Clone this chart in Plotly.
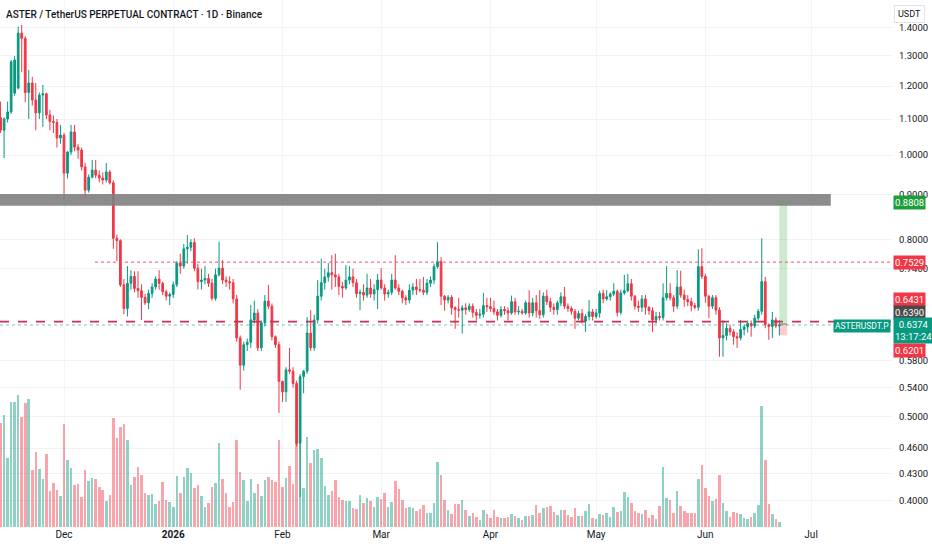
import plotly.graph_objects as go
import pandas as pd
import math

# ---------------- data ----------------
start_date = "2025-11-13"

opens = [1.104, 1.068, 1.100, 1.121, 1.178, 1.194, 1.381, 1.362, 1.180, 1.210,
         1.157, 1.118, 1.172, 1.176, 1.112, 1.093, 1.090, 1.046, 1.054, 0.953,
         1.008, 1.063, 1.021, 1.013, 0.969, 0.911, 0.943, 0.961, 0.948, 0.941,
         0.936, 0.956, 0.929, 0.802, 0.797, 0.709, 0.666, 0.712, 0.725, 0.702,
         0.698, 0.686, 0.676, 0.693, 0.705, 0.720, 0.712, 0.696, 0.688, 0.691,
         0.709, 0.751, 0.745, 0.780, 0.783, 0.793, 0.741, 0.715, 0.718, 0.721,
         0.712, 0.684, 0.728, 0.741, 0.718, 0.715, 0.713, 0.683, 0.616, 0.573,
         0.605, 0.609, 0.646, 0.658, 0.600, 0.641, 0.679, 0.670, 0.618, 0.605,
         0.549, 0.534, 0.566, 0.564, 0.546, 0.466, 0.556, 0.564, 0.624, 0.600,
         0.646, 0.688, 0.713, 0.724, 0.732, 0.728, 0.724, 0.706, 0.703, 0.718,
         0.724, 0.713, 0.693, 0.695, 0.690, 0.703, 0.692, 0.700, 0.718, 0.703,
         0.692, 0.695, 0.718, 0.703, 0.697, 0.685, 0.681, 0.699, 0.705, 0.700,
         0.699, 0.695, 0.712, 0.718, 0.744, 0.754, 0.688, 0.681, 0.686, 0.667,
         0.664, 0.663, 0.667, 0.664, 0.670, 0.659, 0.654, 0.656, 0.671, 0.669,
         0.666, 0.660, 0.654, 0.664, 0.662, 0.658, 0.678, 0.660, 0.661, 0.658,
         0.676, 0.658, 0.676, 0.662, 0.655, 0.688, 0.678, 0.668, 0.664, 0.676,
         0.687, 0.670, 0.666, 0.661, 0.649, 0.657, 0.644, 0.652, 0.660, 0.652,
         0.658, 0.693, 0.683, 0.687, 0.692, 0.697, 0.659, 0.694, 0.698, 0.711,
         0.688, 0.670, 0.668, 0.683, 0.668, 0.662, 0.646, 0.652, 0.650, 0.685,
         0.693, 0.685, 0.670, 0.705, 0.690, 0.682, 0.678, 0.671, 0.668, 0.744,
         0.725, 0.688, 0.670, 0.685, 0.663, 0.616, 0.620, 0.632, 0.626, 0.618,
         0.616, 0.630, 0.634, 0.640, 0.636, 0.649, 0.661, 0.715, 0.638, 0.635,
         0.646, 0.636]

highs = [1.152, 1.105, 1.152, 1.286, 1.300, 1.405, 1.411, 1.370, 1.253, 1.230,
         1.210, 1.180, 1.204, 1.180, 1.127, 1.110, 1.100, 1.083, 1.060, 1.010,
         1.083, 1.083, 1.030, 1.020, 0.980, 0.950, 0.987, 0.987, 0.960, 0.955,
         0.979, 0.961, 0.935, 0.810, 0.800, 0.720, 0.745, 0.737, 0.735, 0.735,
         0.710, 0.692, 0.700, 0.712, 0.725, 0.737, 0.715, 0.700, 0.695, 0.715,
         0.755, 0.770, 0.790, 0.809, 0.800, 0.802, 0.750, 0.740, 0.745, 0.730,
         0.720, 0.740, 0.795, 0.757, 0.725, 0.725, 0.720, 0.690, 0.620, 0.610,
         0.615, 0.672, 0.680, 0.665, 0.645, 0.690, 0.709, 0.675, 0.620, 0.610,
         0.550, 0.570, 0.600, 0.570, 0.550, 0.560, 0.566, 0.651, 0.663, 0.655,
         0.718, 0.760, 0.740, 0.751, 0.767, 0.770, 0.730, 0.715, 0.747, 0.745,
         0.740, 0.720, 0.700, 0.710, 0.730, 0.720, 0.710, 0.730, 0.741, 0.710,
         0.700, 0.730, 0.767, 0.710, 0.700, 0.690, 0.710, 0.712, 0.720, 0.720,
         0.724, 0.720, 0.725, 0.750, 0.794, 0.763, 0.690, 0.690, 0.690, 0.670,
         0.685, 0.672, 0.675, 0.675, 0.675, 0.665, 0.665, 0.694, 0.685, 0.685,
         0.680, 0.665, 0.670, 0.670, 0.668, 0.689, 0.685, 0.670, 0.665, 0.680,
         0.699, 0.685, 0.690, 0.699, 0.695, 0.700, 0.685, 0.675, 0.680, 0.695,
         0.705, 0.675, 0.670, 0.665, 0.662, 0.665, 0.656, 0.681, 0.665, 0.665,
         0.698, 0.700, 0.699, 0.695, 0.712, 0.700, 0.700, 0.728, 0.730, 0.720,
         0.690, 0.680, 0.690, 0.690, 0.670, 0.668, 0.660, 0.660, 0.712, 0.745,
         0.712, 0.690, 0.737, 0.736, 0.700, 0.690, 0.685, 0.676, 0.779, 0.781,
         0.730, 0.690, 0.690, 0.690, 0.668, 0.646, 0.640, 0.638, 0.630, 0.625,
         0.646, 0.638, 0.645, 0.645, 0.655, 0.665, 0.802, 0.724, 0.640, 0.660,
         0.650, 0.646]

lows = [1.060, 0.992, 1.090, 1.115, 1.170, 1.190, 1.245, 1.150, 1.100, 1.140,
        1.068, 1.100, 1.077, 1.100, 1.068, 1.060, 1.020, 1.030, 0.888, 0.940,
        1.000, 1.010, 0.990, 0.960, 0.895, 0.905, 0.940, 0.940, 0.930, 0.925,
        0.930, 0.925, 0.780, 0.755, 0.705, 0.656, 0.652, 0.700, 0.695, 0.685,
        0.646, 0.672, 0.665, 0.685, 0.700, 0.700, 0.690, 0.680, 0.672, 0.685,
        0.705, 0.730, 0.740, 0.750, 0.775, 0.735, 0.700, 0.700, 0.710, 0.705,
        0.680, 0.680, 0.725, 0.710, 0.705, 0.700, 0.675, 0.610, 0.537, 0.565,
        0.595, 0.600, 0.640, 0.595, 0.595, 0.635, 0.665, 0.612, 0.600, 0.505,
        0.520, 0.520, 0.560, 0.540, 0.462, 0.404, 0.532, 0.560, 0.595, 0.595,
        0.640, 0.680, 0.700, 0.715, 0.700, 0.705, 0.690, 0.685, 0.700, 0.710,
        0.705, 0.685, 0.663, 0.680, 0.685, 0.685, 0.680, 0.665, 0.700, 0.680,
        0.685, 0.690, 0.700, 0.690, 0.675, 0.672, 0.675, 0.690, 0.690, 0.695,
        0.690, 0.690, 0.705, 0.710, 0.740, 0.672, 0.662, 0.675, 0.655, 0.631,
        0.650, 0.623, 0.655, 0.660, 0.650, 0.645, 0.648, 0.650, 0.660, 0.660,
        0.655, 0.645, 0.650, 0.655, 0.645, 0.655, 0.655, 0.655, 0.655, 0.655,
        0.650, 0.652, 0.650, 0.648, 0.650, 0.672, 0.660, 0.655, 0.655, 0.670,
        0.665, 0.660, 0.655, 0.631, 0.645, 0.640, 0.626, 0.645, 0.645, 0.648,
        0.650, 0.675, 0.680, 0.680, 0.688, 0.652, 0.655, 0.690, 0.695, 0.680,
        0.664, 0.660, 0.660, 0.655, 0.655, 0.626, 0.640, 0.645, 0.645, 0.680,
        0.680, 0.660, 0.665, 0.685, 0.669, 0.670, 0.661, 0.664, 0.662, 0.720,
        0.676, 0.649, 0.665, 0.655, 0.586, 0.586, 0.612, 0.620, 0.605, 0.600,
        0.612, 0.620, 0.625, 0.618, 0.632, 0.645, 0.655, 0.632, 0.613, 0.616,
        0.632, 0.620]

closes = [1.068, 1.100, 1.121, 1.280, 1.286, 1.381, 1.362, 1.180, 1.210, 1.157,
          1.118, 1.172, 1.176, 1.112, 1.093, 1.090, 1.046, 1.054, 0.953, 1.008,
          1.063, 1.021, 1.013, 0.969, 0.911, 0.943, 0.961, 0.948, 0.941, 0.936,
          0.956, 0.929, 0.802, 0.797, 0.709, 0.666, 0.712, 0.725, 0.702, 0.698,
          0.686, 0.676, 0.693, 0.705, 0.720, 0.712, 0.696, 0.688, 0.691, 0.709,
          0.751, 0.745, 0.780, 0.783, 0.793, 0.741, 0.715, 0.718, 0.721, 0.712,
          0.684, 0.728, 0.741, 0.718, 0.715, 0.713, 0.683, 0.616, 0.573, 0.605,
          0.609, 0.646, 0.658, 0.600, 0.641, 0.679, 0.670, 0.618, 0.605, 0.549,
          0.534, 0.566, 0.564, 0.546, 0.466, 0.556, 0.564, 0.624, 0.600, 0.646,
          0.688, 0.713, 0.724, 0.732, 0.728, 0.724, 0.706, 0.703, 0.718, 0.724,
          0.713, 0.693, 0.695, 0.690, 0.703, 0.692, 0.700, 0.718, 0.703, 0.692,
          0.695, 0.718, 0.703, 0.697, 0.685, 0.681, 0.699, 0.705, 0.700, 0.699,
          0.695, 0.712, 0.718, 0.744, 0.754, 0.688, 0.681, 0.686, 0.667, 0.664,
          0.663, 0.667, 0.664, 0.670, 0.659, 0.654, 0.656, 0.671, 0.669, 0.666,
          0.660, 0.654, 0.664, 0.662, 0.658, 0.678, 0.660, 0.661, 0.658, 0.676,
          0.658, 0.676, 0.662, 0.655, 0.688, 0.678, 0.668, 0.664, 0.676, 0.687,
          0.670, 0.666, 0.661, 0.649, 0.657, 0.644, 0.652, 0.660, 0.652, 0.658,
          0.693, 0.683, 0.687, 0.692, 0.697, 0.659, 0.694, 0.698, 0.711, 0.688,
          0.670, 0.668, 0.683, 0.668, 0.662, 0.646, 0.652, 0.650, 0.685, 0.693,
          0.685, 0.670, 0.705, 0.690, 0.682, 0.678, 0.671, 0.668, 0.744, 0.725,
          0.688, 0.670, 0.685, 0.663, 0.616, 0.620, 0.632, 0.626, 0.618, 0.616,
          0.630, 0.634, 0.640, 0.636, 0.649, 0.661, 0.715, 0.638, 0.635, 0.646,
          0.636, 0.6374]

volumes_m = [104, 112, 69, 125, 125, 132, 110, 124, 128, 57,
             75, 58, 48, 73, 36, 44, 37, 31, 103, 67,
             59, 42, 43, 30, 57, 46, 49, 48, 40, 37,
             26, 32, 109, 89, 100, 103, 87, 42, 50, 60,
             52, 34, 32, 33, 23, 26, 45, 27, 25, 20,
             51, 34, 50, 59, 54, 39, 42, 31, 20, 24,
             40, 44, 84, 48, 34, 20, 25, 87, 55, 47,
             26, 48, 34, 43, 31, 47, 50, 47, 45, 87,
             40, 49, 61, 43, 84, 90, 39, 90, 64, 77,
             78, 69, 41, 32, 36, 47, 30, 27, 26, 26,
             19, 18, 32, 24, 29, 26, 20, 30, 28, 34,
             20, 25, 46, 38, 27, 19, 20, 19, 16, 18,
             22, 14, 14, 24, 65, 52, 27, 17, 13, 23,
             23, 27, 17, 11, 14, 10, 7, 17, 13, 9,
             17, 10, 9, 9, 10, 13, 11, 9, 7, 11,
             11, 12, 22, 14, 19, 20, 21, 15, 12, 17,
             17, 12, 10, 19, 11, 11, 16, 23, 9, 8,
             13, 12, 14, 10, 20, 15, 16, 35, 30, 24,
             16, 14, 13, 17, 9, 12, 8, 21, 60, 29,
             27, 14, 36, 21, 16, 14, 14, 14, 48, 62,
             39, 31, 26, 28, 52, 24, 16, 10, 15, 14,
             13, 9, 8, 10, 14, 22, 121, 67, 23, 13,
             8, 5]

# drawing levels
zone_low, zone_high = 0.874, 0.902
resistance_level = 0.7529
support_level = 0.6431
last_price = 0.6374
entry_price, target_price, stop_price = 0.6390, 0.8808, 0.6201

price_ticks = [1.4, 1.3, 1.2, 1.1, 1.0, 0.9, 0.8, 0.74, 0.58, 0.54, 0.50, 0.46, 0.43, 0.40]
month_ticks = ["2025-12-01", "2026-01-01", "2026-02-01", "2026-03-01",
               "2026-04-01", "2026-05-01", "2026-06-01", "2026-07-01"]
month_labels = ["Dec", "<b>2026</b>", "Feb", "Mar", "Apr", "May", "Jun", "Jul"]

# ---------------- figure ----------------
UP = "#089981"
DOWN = "#f23645"
UP_VOL = "rgba(8,153,129,0.45)"
DOWN_VOL = "rgba(242,54,69,0.45)"
FONT = "Roboto, sans-serif"

dates = pd.date_range(start_date, periods=len(closes), freq="D")
vol_colors = [UP_VOL if c >= o else DOWN_VOL for o, c in zip(opens, closes)]

x_start = "2025-11-12 20:10"
x_end = "2026-07-23 23:00"
zone_end = "2026-07-06 14:00"
resist_start = "2025-12-09 19:00"
pos_start, pos_end = "2026-06-22 00:00", "2026-06-24 05:00"

fig = go.Figure()

fig.add_trace(go.Bar(
    x=dates, y=volumes_m, marker=dict(color=vol_colors, line=dict(width=0)),
    width=0.72 * 86400000, yaxis="y", hoverinfo="skip", showlegend=False))

fig.add_trace(go.Candlestick(
    x=dates, open=opens, high=highs, low=lows, close=closes, yaxis="y2",
    increasing=dict(line=dict(color=UP, width=1), fillcolor=UP),
    decreasing=dict(line=dict(color=DOWN, width=1), fillcolor=DOWN),
    whiskerwidth=0, showlegend=False))

def rect(x0, x1, y0, y1, color):
    fig.add_trace(go.Scatter(
        x=[x0, x1, x1, x0, x0], y=[y0, y0, y1, y1, y0], yaxis="y2",
        mode="lines", fill="toself", fillcolor=color, line=dict(width=0),
        hoverinfo="skip", showlegend=False))

def hline(x0, x1, y, color, dash, width):
    fig.add_trace(go.Scatter(
        x=[x0, x1], y=[y, y], yaxis="y2", mode="lines",
        line=dict(color=color, dash=dash, width=width),
        hoverinfo="skip", showlegend=False))

rect(x_start, zone_end, zone_low, zone_high, "rgba(128,128,128,0.9)")
hline(resist_start, x_end, resistance_level, "#f0506e", "dot", 1)
hline(x_start, x_end, support_level, "#cc2f55", "dash", 1.6)
hline(x_start, x_end, last_price, "rgba(8,153,129,0.55)", "dot", 1)
rect(pos_start, pos_end, entry_price, target_price, "rgba(76,175,80,0.28)")
rect(pos_start, pos_end, stop_price, entry_price, "rgba(242,54,69,0.25)")
hline(pos_start, pos_end, entry_price, "#787b86", "solid", 1)

PLOT_W, PLOT_H = 892, 527
log_lo, log_hi = -0.42797, 0.17832

def paper_y_of_price(p):
    return (math.log10(p) - log_lo) / (log_hi - log_lo)

def paper_y_of_px(px):
    return 1 - px / PLOT_H

annotations = [
    dict(text="ASTER / TetherUS PERPETUAL CONTRACT · 1D · Binance",
         x=4 / PLOT_W, y=paper_y_of_px(14), xanchor="left", yanchor="middle",
         font=dict(size=10, color="#131722", family=FONT, weight=500)),
    dict(text="USDT", x=909 / PLOT_W, y=paper_y_of_px(14.5), xanchor="center",
         yanchor="middle", bgcolor="white", bordercolor="#e0e3eb", borderwidth=1,
         borderpad=3, font=dict(size=9, color="#131722", family=FONT)),
]

axis_labels = [
    ("0.8808", "#1e9e3a", paper_y_of_price(target_price)),
    ("0.7529", DOWN, paper_y_of_price(resistance_level)),
    ("0.6431", DOWN, paper_y_of_px(299)),
    ("0.6390", "#4a4a4a", paper_y_of_px(312)),
    ("0.6374<br>13:17:24", UP, paper_y_of_px(330)),
    ("0.6201", DOWN, paper_y_of_px(350)),
]
for txt, col, yy in axis_labels:
    annotations.append(dict(
        text=txt, x=893 / PLOT_W, y=yy, xanchor="left", yanchor="middle",
        bgcolor=col, borderpad=1, showarrow=False,
        font=dict(size=9.5, color="white", family=FONT)))

annotations.append(dict(
    text="ASTERUSDT.P", x=891 / PLOT_W, y=paper_y_of_px(326), xanchor="right",
    yanchor="middle", bgcolor=UP, borderpad=1,
    font=dict(size=8.5, color="white", family=FONT)))

for a in annotations:
    a.setdefault("showarrow", False)
    a["xref"] = "paper"
    a["yref"] = "paper"

fig.update_layout(
    width=932, height=550,
    margin=dict(l=0, r=40, t=0, b=23),
    paper_bgcolor="white", plot_bgcolor="white",
    showlegend=False, bargap=0,
    font=dict(family=FONT, size=10, color="#131722"),
    xaxis=dict(
        type="date", range=[x_start, x_end], rangeslider=dict(visible=False),
        tickvals=month_ticks, ticktext=month_labels, showgrid=True,
        gridcolor="#f3f4f7", zeroline=False, showline=False, ticks="",
        tickfont=dict(size=10, color="#131722", family=FONT)),
    yaxis=dict(range=[0, PLOT_H], visible=False, fixedrange=True),
    yaxis2=dict(
        overlaying="y", side="right", type="log", range=[log_lo, log_hi],
        tickvals=price_ticks, ticktext=[f"{v:.4f}" for v in price_ticks],
        showgrid=True, gridcolor="#f0f2f6", zeroline=False, showline=False,
        ticks="outside", ticklen=4, tickcolor="rgba(0,0,0,0)",
        tickfont=dict(size=9.5, color="#131722", family=FONT)),
    annotations=annotations,
)

fig.write_html("out.html", config={"displayModeBar": False},
               post_script="document.body.style.margin='0';")
